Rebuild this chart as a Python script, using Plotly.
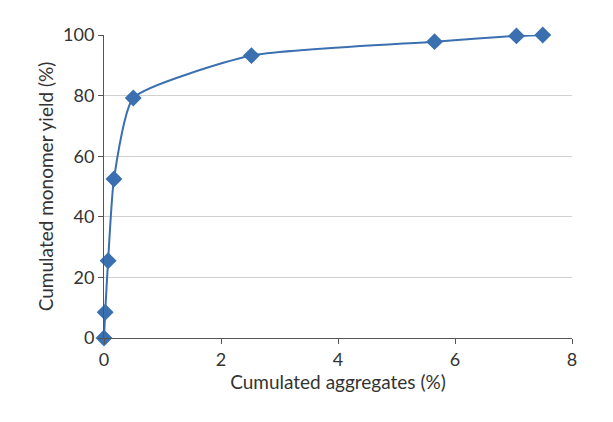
import plotly.graph_objects as go

aggregates = [0.0, 0.02, 0.07, 0.17, 0.5, 2.52, 5.65, 7.05, 7.5, 7.62]
monomer_yield = [0.0, 8.5, 25.5, 52.5, 79.2, 93.2, 97.8, 99.7, 100.0, 100.3]
x_ticks = [0, 2, 4, 6, 8]
y_ticks = [0, 20, 40, 60, 80, 100]

color = "#3a6fb0"
fig = go.Figure()
fig.add_trace(go.Scatter(
    x=aggregates, y=monomer_yield, mode="lines+markers",
    line=dict(color=color, width=2, shape="spline", smoothing=0.5),
    marker=dict(symbol="diamond", size=13, color=color),
    cliponaxis=False, showlegend=False))

fig.update_layout(
    width=613, height=422, paper_bgcolor="white", plot_bgcolor="white",
    margin=dict(l=96, r=49, t=27, b=92),
    font=dict(family="Lato, Noto Sans, sans-serif", size=18, color="#333333"),
    xaxis=dict(range=[0, 8], tickvals=x_ticks, showgrid=False, showline=True,
               linecolor="#555555", linewidth=1, ticks="outside", ticklen=5,
               tickcolor="#555555", zeroline=False,
               title=dict(text="Cumulated aggregates (%)", standoff=6, font=dict(size=19))),
    yaxis=dict(range=[0, 100], tickvals=y_ticks, showgrid=True, gridcolor="#d0d0d0",
               showline=True, linecolor="#555555", linewidth=1, ticks="outside",
               ticklen=5, tickcolor="#555555", zeroline=False,
               title=dict(text="Cumulated monomer yield (%)", standoff=4, font=dict(size=19))),
)
fig.write_html("out.html")
